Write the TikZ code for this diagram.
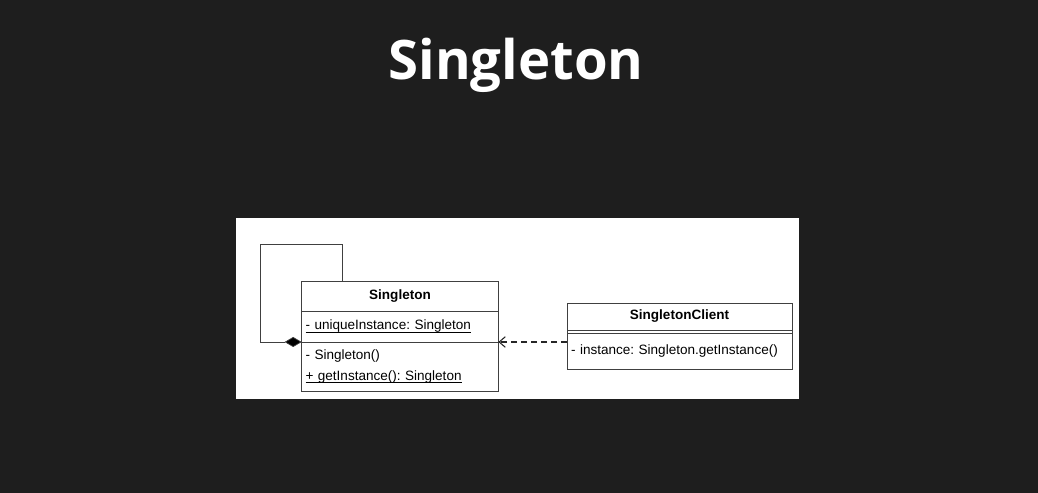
\documentclass[tikz,border=0pt]{standalone}
\usepackage{fontspec}
\setmainfont{Liberation Sans}
\newfontfamily\titlefont{Open Sans}
\usetikzlibrary{arrows.meta,positioning}
\definecolor{slidebg}{RGB}{30,30,30}
\frenchspacing

\begin{document}
\begin{tikzpicture}[x=0.02cm, y=-0.02cm, node distance=0pt,
    every node/.style={font=\fontsize{7.7}{12}\selectfont},
    classbox/.style={draw=black!75, thin, fill=white, inner sep=0pt, outer sep=0pt},
    classname/.style={classbox, font=\bfseries\fontsize{7.7}{12}\selectfont, align=center},
    members/.style={classbox, align=left, text width=#1, inner xsep=2.2pt},
    dependency/.style={draw=black!85, line width=0.6pt, dash pattern=on 3.5pt off 2.2pt, -{Straight Barb[length=3.5pt,width=6pt]}},
    composition/.style={draw=black!75, thin, {Diamond[length=0.34cm,width=0.2cm,fill=black]}-}]
        \useasboundingbox[fill=slidebg] (0,0) rectangle (1038,493);
        \fill[white] (236,218) rectangle (799,399);

        \node[text=white, font=\titlefont\bfseries\fontsize{31}{36}\selectfont] (title) at (516,65) {Singleton};

        % Singleton class
        \node[classname, minimum width=3.94cm, minimum height=0.6cm]  (sh) at (400,296) {Singleton};
        \node[members=3.78cm, minimum height=0.62cm, below=of sh]     (sa) {\underbar{- uniqueInstance: Singleton}};
        \node[members=3.78cm, minimum height=0.98cm, below=of sa]     (sm) {- Singleton()\\\underbar{+ getInstance(): Singleton}};

        % client class
        \node[classname, minimum width=4.5cm, minimum height=0.54cm]  (ch) at (679.5,316.5) {SingletonClient};
        \node[classbox, minimum width=4.5cm, minimum height=0.06cm, below=of ch] (ca) {};
        \node[members=4.34cm, minimum height=0.72cm, below=of ca]     (cm) {- instance: Singleton.getInstance()};

        \coordinate (loopleft) at (260,244);
        \coordinate (looptop) at (342,244);

        \draw[composition] (sa.south west) -| (loopleft) -- (looptop) -- (looptop |- sh.north);
        \draw[dependency] (cm.west |- sa.south) -- (sa.south east);
\end{tikzpicture}
\end{document}
